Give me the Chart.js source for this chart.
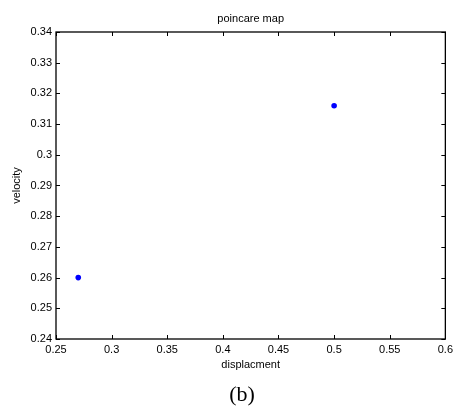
<!DOCTYPE html>
<html>
<head>
<meta charset="utf-8">
<script src="https://cdn.jsdelivr.net/npm/chart.js@4/dist/chart.umd.min.js"></script>
<style>
  html, body { margin: 0; padding: 0; background: #fff; }
  #wrap { position: relative; width: 457px; height: 412px; }
</style>
</head>
<body>
<div id="wrap"><canvas id="poincare" width="457" height="412"></canvas></div>
<script>
// poincare map points
const displacement = [0.27, 0.5];
const velocity = [0.26, 0.316];

const X_MIN = 0.25, X_MAX = 0.6, X_STEP = 0.05;
const Y_MIN = 0.24, Y_MAX = 0.34, Y_STEP = 0.01;

const TITLE = 'poincare map';
const CAPTION = '(b)';

const FONT = 'Arial, "Liberation Sans", sans-serif';

const fmt = (v) => String(+v.toFixed(2));

// matlab-like box: frame plus inward ticks on all four sides
const boxPlugin = {
  id: 'matlabBox',
  afterDraw(chart) {
    const { ctx, chartArea: a, scales } = chart;
    const tick = 4;
    ctx.save();
    ctx.strokeStyle = '#000';
    ctx.lineWidth = 1;
    ctx.beginPath();
    for (const t of scales.x.ticks) {
      const px = Math.round(scales.x.getPixelForValue(t.value)) + 0.5;
      ctx.moveTo(px, a.bottom); ctx.lineTo(px, a.bottom - tick);
      ctx.moveTo(px, a.top); ctx.lineTo(px, a.top + tick);
    }
    for (const t of scales.y.ticks) {
      const py = Math.round(scales.y.getPixelForValue(t.value)) + 0.5;
      ctx.moveTo(a.left, py); ctx.lineTo(a.left + tick, py);
      ctx.moveTo(a.right, py); ctx.lineTo(a.right - tick, py);
    }
    ctx.stroke();
    ctx.lineWidth = 1.3;
    ctx.strokeRect(a.left, a.top, a.right - a.left, a.bottom - a.top);

    ctx.fillStyle = '#000';
    ctx.textAlign = 'center';
    ctx.textBaseline = 'middle';
    // title centred over the axes box, matlab style
    ctx.font = '11px ' + FONT;
    ctx.fillText(TITLE, (a.left + a.right) / 2, 19);
    // panel caption under the figure
    ctx.font = '22px "Liberation Serif", "Times New Roman", serif';
    ctx.fillText(CAPTION, 242, 395);
    ctx.restore();
  },
};

new Chart(document.getElementById('poincare'), {
  type: 'scatter',
  data: {
    datasets: [{
      data: displacement.map((x, i) => ({ x, y: velocity[i] })),
      backgroundColor: '#0000ff',
      borderColor: '#0000ff',
      pointRadius: 2.8,
      pointHoverRadius: 2.8,
      borderWidth: 0,
    }],
  },
  options: {
    responsive: false,
    animation: false,
    devicePixelRatio: 1,
    layout: { padding: { left: 0, right: 11, top: 32, bottom: 0 } },
    plugins: {
      legend: { display: false },
      tooltip: { enabled: false },
      title: { display: false },
    },
    scales: {
      x: {
        type: 'linear',
        min: X_MIN, max: X_MAX,
        grid: { display: false, drawTicks: false },
        border: { display: false },
        ticks: {
          stepSize: X_STEP, padding: 4, color: '#000',
          font: { family: FONT, size: 11 },
          maxRotation: 0, autoSkip: false,
          callback: (v) => fmt(v),
        },
        title: {
          display: true, text: 'displacment', color: '#000',
          font: { family: FONT, size: 11 },
          padding: { top: 0, bottom: 40 },
        },
        afterFit: (s) => { s.height = 73; },
      },
      y: {
        type: 'linear',
        min: Y_MIN, max: Y_MAX,
        grid: { display: false, drawTicks: false },
        border: { display: false },
        ticks: {
          stepSize: Y_STEP, padding: 4, color: '#000',
          font: { family: FONT, size: 11 },
          autoSkip: false,
          callback: (v) => fmt(v),
        },
        title: {
          display: true, text: 'velocity', color: '#000',
          font: { family: FONT, size: 11 },
          padding: { top: 10, bottom: 0 },
        },
        afterFit: (s) => { s.width = 56; },
      },
    },
  },
  plugins: [boxPlugin],
});
</script>
</body>
</html>
